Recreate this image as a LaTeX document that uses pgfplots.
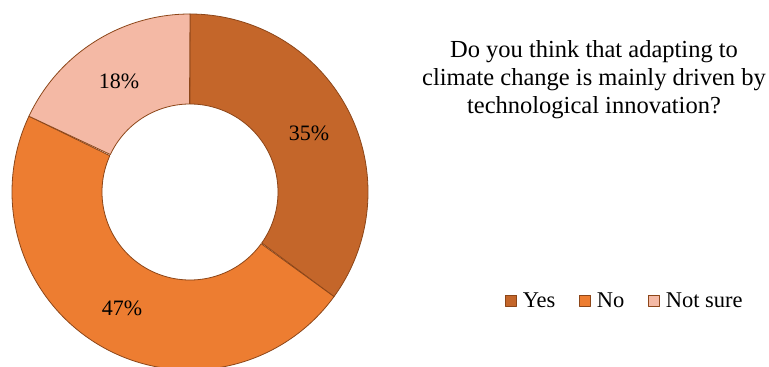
\documentclass[border=0pt]{standalone}
\usepackage{pgfplots}
\pgfplotsset{compat=1.18}
\usepackage{fontspec}
\setmainfont{Liberation Serif}
\definecolor{cyes}{RGB}{196,102,42}
\definecolor{cno}{RGB}{237,125,49}
\definecolor{cns}{RGB}{244,185,165}
\definecolor{cedge}{RGB}{140,70,25}
% #1 start (cumulative %), #2 end (cumulative %), #3 colour
\newcommand\slice[3]{%
\addplot[fill=#3, draw=cedge, line width=0.8pt, line join=round, domain=0:2, samples=401, variable=\t]
 ({190 + ifthenelse(\t<=1,178,88)*cos(ifthenelse(\t<=1, (90-3.6*#1) + ((90-3.6*#2)-(90-3.6*#1))*\t, (90-3.6*#2) + ((90-3.6*#1)-(90-3.6*#2))*(\t-1)))},
  {175 + ifthenelse(\t<=1,178,88)*sin(ifthenelse(\t<=1, (90-3.6*#1) + ((90-3.6*#2)-(90-3.6*#1))*\t, (90-3.6*#2) + ((90-3.6*#1)-(90-3.6*#2))*(\t-1)))}) -- cycle;}
\begin{document}
\begin{tikzpicture}
\begin{axis}[hide axis, scale only axis, width=769pt, height=367pt,
  xmin=0, xmax=769, ymin=0, ymax=367, clip=true,
  legend columns=3,
  legend style={at={(axis cs:625,66)}, anchor=center, draw=none, fill=none,
    font=\fontsize{22.5}{26}\selectfont,
    /tikz/every even column/.append style={column sep=22pt}},
  legend image code/.code={\draw[#1] (0pt,-5.5pt) rectangle (11pt,5.5pt); \path[draw=none,fill=none] (15pt,0pt);},
]
\path (rel axis cs:0,0) rectangle (rel axis cs:1,1);
\slice{0}{35}{cyes}
\addlegendentry{Yes}
\slice{35}{82}{cno}
\addlegendentry{No}
\slice{82}{100}{cns}
\addlegendentry{Not sure}
\node[font=\fontsize{22}{26}\selectfont] at (axis cs:309,234) {35\%};
\node[font=\fontsize{22}{26}\selectfont] at (axis cs:122,59) {47\%};
\node[font=\fontsize{22}{26}\selectfont] at (axis cs:119,286) {18\%};
\node[align=center, font=\fontsize{24.5}{28}\selectfont] at (axis cs:594,287)
 {Do you think that adapting to\\climate change is mainly driven by\\technological innovation?};
\end{axis}
\end{tikzpicture}
\end{document}
